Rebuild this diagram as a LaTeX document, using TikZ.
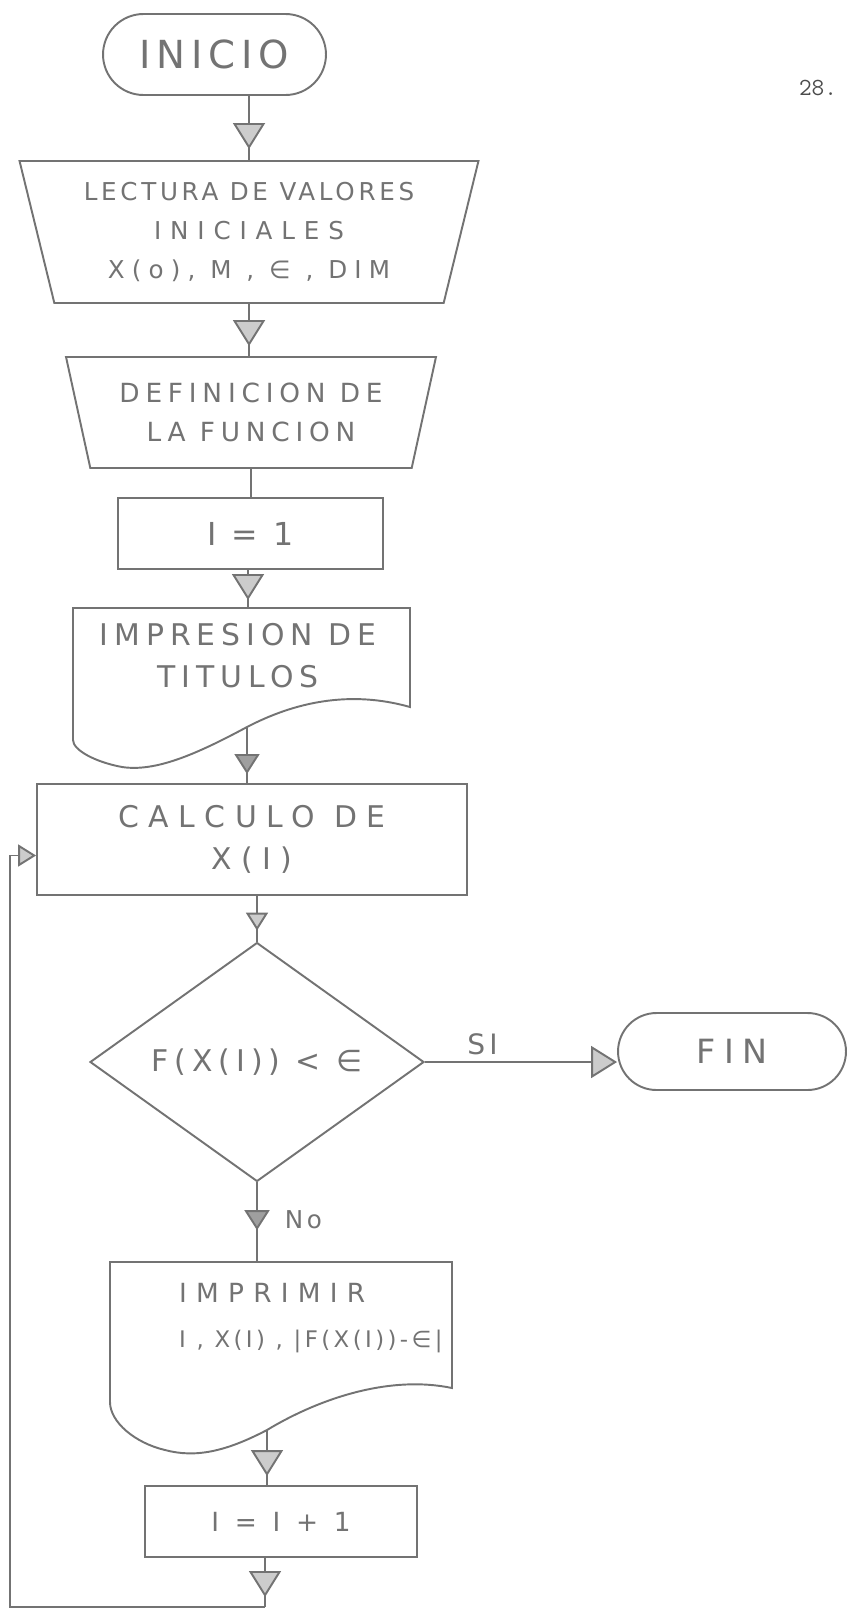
\documentclass[tikz,border=0pt]{standalone}
\usepackage{fontspec}
\newfontfamily\mano[LetterSpace=15]{DejaVu Sans}
\usetikzlibrary{arrows.meta,shapes.geometric,shapes.misc,decorations.markings}
\definecolor{lapiz}{gray}{0.45}
\tikzset{
  trazo/.style={draw=lapiz,line width=1.1pt},
  punta/.tip={Triangle[length=5.2mm,width=6.4mm,fill=gray!40]},
  puntachica/.tip={Triangle[length=3.6mm,width=4.4mm,fill=gray!40]},
  puntallena/.tip={Triangle[length=4mm,width=5mm,fill=gray!75]},
}
\begin{document}
\begin{tikzpicture}[x=0.02cm,y=-0.02cm,text=lapiz,
  terminal/.style={trazo,rounded rectangle,inner sep=0pt},
  entrada/.style={trazo,trapezium,shape border rotate=180,trapezium stretches body,inner sep=0pt,align=center},
  caja/.style={trazo,rectangle,inner sep=0pt,align=center},
  decision/.style={trazo,diamond,aspect=1.4,inner sep=0pt},
  flecha/.style={trazo,postaction={decorate},decoration={markings,mark=at position #1 with {\arrow{punta}}}},
  flecha/.default=-0.2cm,
  chica/.style={trazo,postaction={decorate},decoration={markings,mark=at position #1 with {\arrow{puntachica}}}},
  llena/.style={trazo,postaction={decorate},decoration={markings,mark=at position #1 with {\arrow{puntallena}}}}]
\useasboundingbox (0,0) rectangle (849,1613);

% bloques
\node[terminal,minimum width=4.46cm,minimum height=1.62cm,font=\mano\fontsize{22}{26}\selectfont] (inicio) at (214.5,54.5) {INICIO};
\node[font=\ttfamily\fontsize{14}{16}\selectfont,text=black!70] (pag) at (818,88) {28.};
\node[entrada,trapezium angle=70.6,minimum width=9.18cm,minimum height=2.84cm,font=\mano\fontsize{14}{22}\selectfont] (lect) at (249,232)
  {LECTURA DE VALORES\\{\addfontfeatures{LetterSpace=36}INICIALES}\\{\addfontfeatures{LetterSpace=29}X(o), M , ∈ , DIM}};
\node[entrada,trapezium angle=67.5,minimum width=7.4cm,minimum height=2.22cm,font=\mano\fontsize{15}{22}\selectfont\addfontfeatures{LetterSpace=22}] (def) at (251,412.5) {DEFINICION DE\\LA FUNCION};
\node[caja,minimum width=5.3cm,minimum height=1.42cm,font=\mano\fontsize{18}{20}\selectfont] (uno) at (250.5,533.5) {I = 1};

% documento: titulos
\draw[trazo] (73,740) -- (73,608) -- (410,608) -- (410,707)
  .. controls (350,690) and (295,702) .. (247,727) coordinate (tit-out)
  .. controls (195,755) and (155,772) .. (122,767)
  .. controls (95,762) and (73,750) .. (73,740);
\coordinate (tit-top) at (248,608);
\node[align=center,font=\mano\fontsize{17}{24}\selectfont\addfontfeatures{LetterSpace=20}] (tit) at (238,656) {IMPRESION DE\\TITULOS};

\node[caja,minimum width=8.6cm,minimum height=2.22cm,font=\mano\fontsize{17}{24}\selectfont\addfontfeatures{LetterSpace=32}] (calc) at (252,839.5) {CALCULO DE\\X(I)};
\node[decision,minimum width=6.68cm,minimum height=4.78cm,font=\mano\fontsize{17}{20}\selectfont\addfontfeatures{LetterSpace=20}] (cond) at (257,1062) {F(X(I)) < ∈};
\node[terminal,minimum width=4.56cm,minimum height=1.54cm,font=\mano\fontsize{19}{20}\selectfont\addfontfeatures{LetterSpace=25}] (fin) at (732,1051.5) {FIN};

% documento: impresion
\draw[trazo] (110,1402) -- (110,1262) -- (452,1262) -- (452,1388)
  .. controls (390,1375) and (320,1398) .. (267,1430) coordinate (imp-out)
  .. controls (225,1452) and (195,1458) .. (165,1450)
  .. controls (135,1443) and (110,1422) .. (110,1402);
\coordinate (imp-top) at (257,1262);
\node[anchor=west,align=left,font=\mano\fontsize{13}{25.5}\selectfont] (imp) at (173,1318)
  {{\addfontfeatures{LetterSpace=35}\fontsize{15}{25.5}\selectfont IMPRIMIR}\\I , X(I) , |F(X(I))-∈|};

\node[caja,minimum width=5.44cm,minimum height=1.42cm,font=\mano\fontsize{15}{20}\selectfont\addfontfeatures{LetterSpace=28}] (suma) at (281,1521.5) {I = I + 1};
\coordinate (lazo) at (265,1607);
\coordinate (esq) at (10,1607);

% conectores
\draw[flecha=-0.22cm] (lect.north |- inicio.south) -- (lect.north);
\draw[flecha] (lect.south) -- (lect.south |- def.north);
\draw[trazo] (def.south) -- (def.south |- uno.north);
\draw[flecha=-0.16cm] (tit-top |- uno.south) -- (tit-top);
\draw[llena=-0.18cm] (tit-out) -- (tit-out |- calc.north);
\draw[chica=-0.22cm] (cond.north |- calc.south) -- (cond.north);
\draw[trazo,-{punta}] (cond.east) -- (cond.east -| fin.west) node[pos=0.3,above,font=\mano\fontsize{16}{18}\selectfont] (si) {SI};
\draw[llena=0.6] (cond.south) -- (imp-top) node[pos=0.47,right=0.42cm,font=\mano\fontsize{14}{16}\selectfont] (no) {No};
\draw[flecha=-0.18cm] (imp-out) -- (imp-out |- suma.north);
\draw[flecha] (lazo |- suma.south) -- (lazo);
\draw[trazo,-{puntachica}] (lazo) -- (esq) |- ([yshift=-0.32cm]calc.west);
\end{tikzpicture}
\end{document}
